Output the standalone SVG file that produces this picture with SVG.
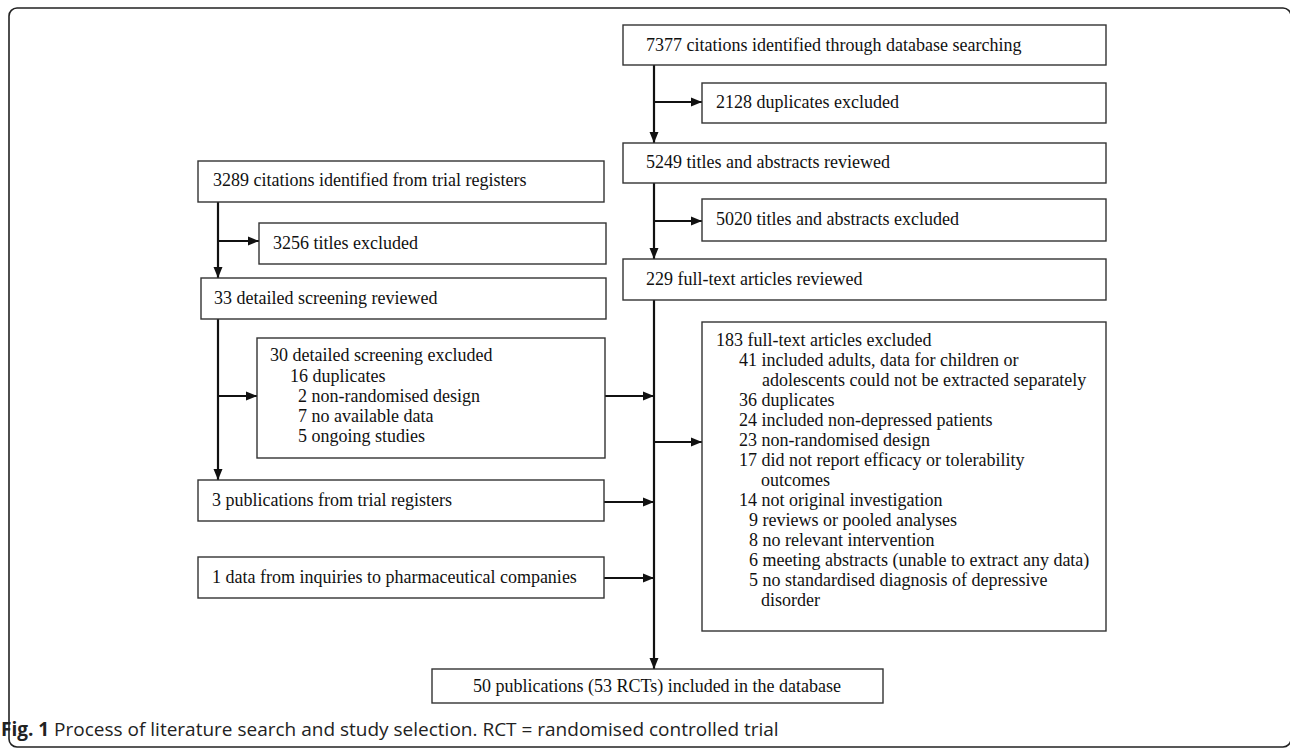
<svg xmlns="http://www.w3.org/2000/svg" width="1290" height="749" viewBox="0 0 1290 749">
<style>
.box{fill:#fff;stroke:#333;stroke-width:1.4}
.t{font-family:"Liberation Serif","Times New Roman",serif;font-size:18px;fill:#111}
.c{stroke:#111;stroke-width:2.2;fill:none}
.cap{font-family:"Open Sans","Liberation Sans",sans-serif;font-size:19px;fill:#222}
</style>
<defs>
<marker id="ah" markerUnits="userSpaceOnUse" markerWidth="11" markerHeight="11" viewBox="0 0 11 11" refX="11" refY="5.5" orient="auto">
<path d="M0,1 L11,5.5 L0,10 Z" fill="#111"/>
</marker>
</defs>
<rect x="9" y="8" width="1282" height="739" rx="8" fill="none" stroke="#222" stroke-width="1.6"/>

<g id="connectors">
<line class="c" x1="654" y1="65" x2="654" y2="143" marker-end="url(#ah)"/>
<line class="c" x1="654" y1="102" x2="702" y2="102" marker-end="url(#ah)"/>
<line class="c" x1="654" y1="183" x2="654" y2="259" marker-end="url(#ah)"/>
<line class="c" x1="654" y1="221" x2="702" y2="221" marker-end="url(#ah)"/>
<line class="c" x1="654" y1="300" x2="654" y2="669" marker-end="url(#ah)"/>
<line class="c" x1="654" y1="442" x2="702" y2="442" marker-end="url(#ah)"/>
<line class="c" x1="218" y1="202" x2="218" y2="278" marker-end="url(#ah)"/>
<line class="c" x1="218" y1="241" x2="259" y2="241" marker-end="url(#ah)"/>
<line class="c" x1="218" y1="319" x2="218" y2="480" marker-end="url(#ah)"/>
<line class="c" x1="218" y1="396" x2="257" y2="396" marker-end="url(#ah)"/>
<line class="c" x1="605" y1="396" x2="654" y2="396" marker-end="url(#ah)"/>
<line class="c" x1="604" y1="502" x2="654" y2="502" marker-end="url(#ah)"/>
<line class="c" x1="604" y1="578" x2="654" y2="578" marker-end="url(#ah)"/>
</g>

<g id="n7377"><rect class="box" x="623" y="25" width="483" height="40"/><text class="t" x="646" y="51">7377 citations identified through database searching</text></g>
<g id="n2128"><rect class="box" x="702" y="83" width="404" height="40"/><text class="t" x="716" y="108">2128 duplicates excluded</text></g>
<g id="n5249"><rect class="box" x="623" y="143" width="483" height="40"/><text class="t" x="646" y="168">5249 titles and abstracts reviewed</text></g>
<g id="n5020"><rect class="box" x="702" y="199" width="404" height="42"/><text class="t" x="716" y="225">5020 titles and abstracts excluded</text></g>
<g id="n229"><rect class="box" x="623" y="259" width="483" height="41"/><text class="t" x="646" y="285">229 full-text articles reviewed</text></g>
<g id="n183"><rect class="box" x="702" y="322" width="404" height="309"/>
<text class="t"><tspan x="716" y="346">183 full-text articles excluded</tspan><tspan x="739" y="366">41 included adults, data for children or</tspan><tspan x="762" y="386">adolescents could not be extracted separately</tspan><tspan x="739" y="406">36 duplicates</tspan><tspan x="739" y="426">24 included non-depressed patients</tspan><tspan x="739" y="446">23 non-randomised design</tspan><tspan x="739" y="466">17 did not report efficacy or tolerability</tspan><tspan x="761" y="486">outcomes</tspan><tspan x="739" y="506">14 not original investigation</tspan><tspan x="749" y="526">9 reviews or pooled analyses</tspan><tspan x="749" y="546">8 no relevant intervention</tspan><tspan x="749" y="566">6 meeting abstracts (unable to extract any data)</tspan><tspan x="749" y="586">5 no standardised diagnosis of depressive</tspan><tspan x="761" y="606">disorder</tspan></text></g>
<g id="n3289"><rect class="box" x="198" y="161" width="406" height="41"/><text class="t" x="213" y="186">3289 citations identified from trial registers</text></g>
<g id="n3256"><rect class="box" x="259" y="223" width="347" height="41"/><text class="t" x="273" y="249">3256 titles excluded</text></g>
<g id="n33"><rect class="box" x="201" y="278" width="405" height="41"/><text class="t" x="214" y="304">33 detailed screening reviewed</text></g>
<g id="n30"><rect class="box" x="257" y="338" width="348" height="120"/>
<text class="t"><tspan x="270" y="361">30 detailed screening excluded</tspan><tspan x="290" y="382">16 duplicates</tspan><tspan x="298" y="402">2 non-randomised design</tspan><tspan x="298" y="422">7 no available data</tspan><tspan x="298" y="442">5 ongoing studies</tspan></text></g>
<g id="n3pub"><rect class="box" x="198" y="480" width="406" height="41"/><text class="t" x="212" y="506">3 publications from trial registers</text></g>
<g id="n1data"><rect class="box" x="198" y="557" width="406" height="41"/><text class="t" x="212" y="583">1 data from inquiries to pharmaceutical companies</text></g>
<g id="n50"><rect class="box" x="432" y="669" width="451" height="34"/><text class="t" x="657" y="692" text-anchor="middle">50 publications (53 RCTs) included in the database</text></g>

<text class="cap" x="1" y="736"><tspan font-weight="bold">Fig. 1</tspan> Process of literature search and study selection. RCT = randomised controlled trial</text>
</svg>
